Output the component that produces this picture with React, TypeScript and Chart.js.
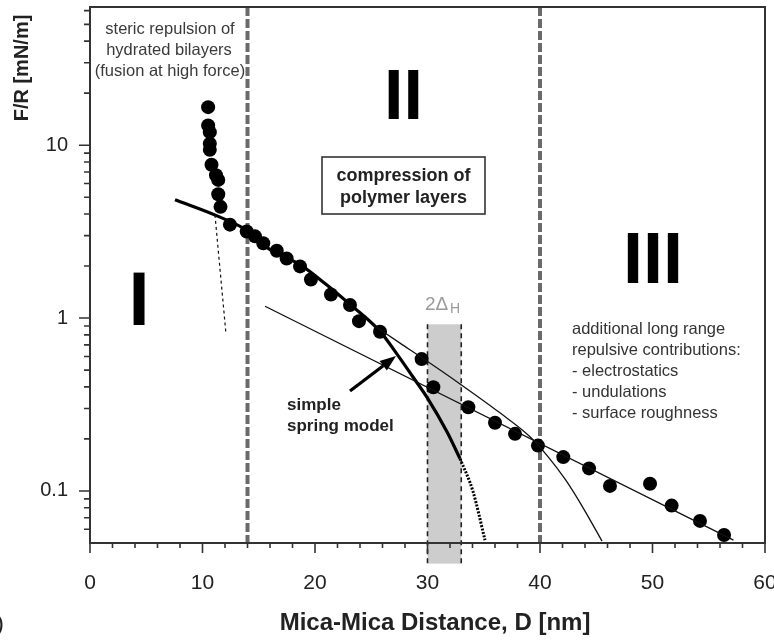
import React, { useEffect, useRef } from "react";
import { Chart, registerables } from "chart.js";

Chart.register(...registerables);

// ---- data (D in nm, F/R in mN/m) ----
const clusterD = [10.5, 10.5, 10.65, 10.65, 10.65, 10.8, 11.2, 11.4, 11.4, 11.6];
const clusterF = [16.6, 13.0, 11.9, 10.2, 9.4, 7.7, 6.7, 6.3, 5.2, 4.4];

const mainD = [12.44, 13.93, 14.67, 15.4, 16.6, 17.48, 18.67, 19.64, 21.42, 23.11, 23.91, 25.78, 29.48, 30.52, 33.63, 36.0, 37.78, 39.82, 42.07, 44.36, 46.22, 49.78, 51.7, 54.22, 56.36];
const mainF = [3.47, 3.17, 2.97, 2.71, 2.45, 2.21, 1.99, 1.67, 1.37, 1.19, 0.96, 0.834, 0.579, 0.398, 0.305, 0.248, 0.214, 0.183, 0.157, 0.135, 0.107, 0.11, 0.0823, 0.0671, 0.0556];

const springD = [7.56, 11.29, 13.87, 16.0, 18.67, 20.89, 23.11, 25.78, 27.29, 28.71, 30.04, 31.73, 32.89];
const springF = [4.83, 3.9, 3.24, 2.49, 2.04, 1.585, 1.2, 0.837, 0.619, 0.456, 0.341, 0.22, 0.154];
const springTailD = [32.89, 34.04, 35.11];
const springTailF = [0.154, 0.0995, 0.052];

const fitAD = [25.07, 27.56, 29.42, 32.89, 36.44, 39.11, 40.71, 42.31, 43.91, 45.51];
const fitAF = [0.921, 0.716, 0.595, 0.416, 0.283, 0.206, 0.158, 0.115, 0.0783, 0.0513];

const fitBD = [15.56, 57.2];
const fitBF = [1.17, 0.052];

const stericD = [11.11, 12.09];
const stericF = [3.95, 0.807];

const regionBounds = [14, 40];
const bandD = [30, 33];
const bandF = [0.92, 0.038];

const arrowD = [23.11, 27.2];
const arrowF = [0.379, 0.603];

const xTickLabels = [0, 10, 20, 30, 40, 50, 60];
const xMinorTicks = [2, 4, 6, 8, 12, 14, 16, 18, 22, 24, 26, 28, 32, 34, 36, 38, 42, 44, 46, 48, 52, 54, 56, 58];
const yTickLabels = [0.1, 1, 10];
const yMinorTicks = [0.06, 0.07, 0.08, 0.09, 0.2, 0.3, 0.4, 0.5, 0.6, 0.7, 0.8, 0.9, 2, 3, 4, 5, 6, 7, 8, 9, 20, 30, 40, 50, 60];

const X_MIN = 0, X_MAX = 60, Y_MIN = 0.05, Y_MAX = 63;

const FONT = "'Liberation Sans', Arial, Helvetica, sans-serif";

const pts = (xs: number[], ys: number[]) => xs.map((v, i) => ({ x: v, y: ys[i] }));

const overlay = {
  id: "overlay",
  beforeDatasetsDraw(chart: any) {
    const { ctx, chartArea: a, scales } = chart;
    const x = scales.x, y = scales.y;
    ctx.save();
    // shaded band 2ΔH
    const bx0 = x.getPixelForValue(bandD[0]);
    const bx1 = x.getPixelForValue(bandD[1]);
    const by0 = y.getPixelForValue(bandF[0]);
    const by1 = y.getPixelForValue(bandF[1]);
    ctx.fillStyle = "#cdcdcd";
    ctx.fillRect(bx0, by0, bx1 - bx0, by1 - by0);
    ctx.strokeStyle = "#222";
    ctx.lineWidth = 1.6;
    ctx.setLineDash([5, 4]);
    for (const bx of [bx0, bx1]) {
      ctx.beginPath();
      ctx.moveTo(bx, by0);
      ctx.lineTo(bx, by1);
      ctx.stroke();
    }
    // region boundaries
    ctx.strokeStyle = "#6a6a6a";
    ctx.lineWidth = 4;
    ctx.setLineDash([9, 3]);
    for (const d of regionBounds) {
      const px = x.getPixelForValue(d);
      ctx.beginPath();
      ctx.moveTo(px, a.top);
      ctx.lineTo(px, a.bottom);
      ctx.stroke();
    }
    ctx.restore();
  },
  afterDatasetsDraw(chart: any) {
    const { ctx, chartArea: a, scales } = chart;
    const x = scales.x, y = scales.y;
    ctx.save();
    ctx.setLineDash([]);
    // frame
    ctx.strokeStyle = "#333";
    ctx.lineWidth = 2;
    ctx.strokeRect(a.left, a.top, a.right - a.left, a.bottom - a.top);
    // ticks
    ctx.lineWidth = 1.6;
    ctx.beginPath();
    for (const v of xTickLabels) {
      const px = x.getPixelForValue(v);
      ctx.moveTo(px, a.bottom);
      ctx.lineTo(px, a.bottom + 10);
    }
    for (const v of xMinorTicks) {
      const px = x.getPixelForValue(v);
      ctx.moveTo(px, a.bottom);
      ctx.lineTo(px, a.bottom + 5);
    }
    for (const v of yTickLabels) {
      const py = y.getPixelForValue(v);
      ctx.moveTo(a.left, py);
      ctx.lineTo(a.left - 11, py);
    }
    for (const v of yMinorTicks) {
      const py = y.getPixelForValue(v);
      ctx.moveTo(a.left, py);
      ctx.lineTo(a.left - 6, py);
    }
    ctx.stroke();

    // arrow
    const ax0 = x.getPixelForValue(arrowD[0]), ay0 = y.getPixelForValue(arrowF[0]);
    const ax1 = x.getPixelForValue(arrowD[1]), ay1 = y.getPixelForValue(arrowF[1]);
    const ang = Math.atan2(ay1 - ay0, ax1 - ax0);
    const hl = 16, hw = 6;
    const bxh = ax1 - hl * Math.cos(ang), byh = ay1 - hl * Math.sin(ang);
    ctx.strokeStyle = "#000";
    ctx.fillStyle = "#000";
    ctx.lineWidth = 3.2;
    ctx.beginPath();
    ctx.moveTo(ax0, ay0);
    ctx.lineTo(bxh, byh);
    ctx.stroke();
    ctx.beginPath();
    ctx.moveTo(ax1, ay1);
    ctx.lineTo(bxh + hw * Math.sin(ang), byh - hw * Math.cos(ang));
    ctx.lineTo(bxh - hw * Math.sin(ang), byh + hw * Math.cos(ang));
    ctx.closePath();
    ctx.fill();

    // texts
    const txt = (s: string, px: number, py: number, font: string, color: string, align: CanvasTextAlign = "left", base: CanvasTextBaseline = "middle") => {
      ctx.font = font;
      ctx.fillStyle = color;
      ctx.textAlign = align;
      ctx.textBaseline = base;
      ctx.fillText(s, px, py);
    };
    const reg = (sz: number) => `${sz}px ${FONT}`;
    const bold = (sz: number) => `bold ${sz}px ${FONT}`;

    txt("steric repulsion of", 170, 29, reg(16.5), "#3a3a3a", "center");
    txt("hydrated bilayers", 169, 50, reg(16.5), "#3a3a3a", "center");
    txt("(fusion at high force)", 170, 71, reg(16.5), "#3a3a3a", "center");

    txt("I", 139, 325, bold(76), "#000", "center", "alphabetic");
    txt("II", 403.5, 119, bold(70), "#000", "center", "alphabetic");
    txt("III", 653, 283, bold(72), "#000", "center", "alphabetic");

    ctx.strokeStyle = "#333";
    ctx.lineWidth = 1.6;
    ctx.strokeRect(322, 157, 163, 57);
    txt("compression of", 403.5, 176, bold(18), "#222", "center");
    txt("polymer layers", 403.5, 198, bold(18), "#222", "center");

    txt("simple", 287, 405, bold(17), "#222");
    txt("spring model", 287, 426, bold(17), "#222");

    txt("2Δ", 425, 305, reg(19), "#9a9a9a");
    txt("H", 450, 309, reg(14), "#9a9a9a");

    const addl = ["additional long range", "repulsive contributions:", "- electrostatics", "- undulations", "- surface roughness"];
    addl.forEach((s, i) => txt(s, 572, 329 + i * 21.2, reg(16.5), "#333"));

    // axis titles
    txt("Mica-Mica Distance, D [nm]", 435, 623, bold(24), "#222", "center");
    ctx.save();
    ctx.translate(22, 68);
    ctx.rotate(-Math.PI / 2);
    txt("F/R [mN/m]", 0, 0, bold(20), "#222", "center");
    ctx.restore();
    txt(")", -4, 624, reg(24), "#222");
    ctx.restore();
  },
};

export default function App() {
  const ref = useRef<HTMLCanvasElement | null>(null);
  useEffect(() => {
    if (!ref.current) return;
    const chart = new Chart(ref.current, {
      type: "scatter",
      data: {
        datasets: [
          { data: pts(stericD, stericF), showLine: true, borderColor: "#111", borderWidth: 1.2, borderDash: [3, 3], pointRadius: 0 },
          { data: pts(fitBD, fitBF), showLine: true, borderColor: "#111", borderWidth: 1.3, pointRadius: 0 },
          { data: pts(fitAD, fitAF), showLine: true, borderColor: "#111", borderWidth: 1.3, pointRadius: 0, cubicInterpolationMode: "monotone" },
          { data: pts(springD, springF), showLine: true, borderColor: "#000", borderWidth: 3.2, pointRadius: 0, cubicInterpolationMode: "monotone" },
          { data: pts(springTailD, springTailF), showLine: true, borderColor: "#000", borderWidth: 3, borderDash: [2, 1.5], pointRadius: 0, cubicInterpolationMode: "monotone" },
          { data: pts(clusterD, clusterF), showLine: false, pointRadius: 7, pointBackgroundColor: "#000", pointBorderColor: "#000", pointBorderWidth: 0 },
          { data: pts(mainD, mainF), showLine: false, pointRadius: 7, pointBackgroundColor: "#000", pointBorderColor: "#000", pointBorderWidth: 0 },
        ],
      },
      options: {
        animation: false,
        responsive: false,
        devicePixelRatio: 1,
        layout: { padding: { left: 0, right: 9, top: 7, bottom: 0 } },
        plugins: { legend: { display: false }, tooltip: { enabled: false } },
        events: [],
        scales: {
          x: {
            type: "linear",
            min: X_MIN,
            max: X_MAX,
            grid: { display: false, drawTicks: false },
            border: { display: false },
            ticks: { font: { size: 21, family: FONT }, color: "#222", padding: 28, maxRotation: 0, autoSkip: false },
            afterBuildTicks: (s: any) => { s.ticks = xTickLabels.map((v) => ({ value: v })); },
            afterFit: (s: any) => { s.height = 98; s.paddingLeft = 0; s.paddingRight = 0; },
          },
          y: {
            type: "logarithmic",
            min: Y_MIN,
            max: Y_MAX,
            grid: { display: false, drawTicks: false },
            border: { display: false },
            ticks: { font: { size: 20, family: FONT }, color: "#222", padding: 22, autoSkip: false, callback: (v: any) => String(v) },
            afterBuildTicks: (s: any) => { s.ticks = yTickLabels.map((v) => ({ value: v })); },
            afterFit: (s: any) => { s.width = 90; s.paddingTop = 0; s.paddingBottom = 0; },
          },
        },
      },
      plugins: [overlay],
    } as any);
    return () => chart.destroy();
  }, []);
  return (
    <div style={{ position: "absolute", left: 0, top: 0, width: 774, height: 641, background: "#fff" }}>
      <canvas ref={ref} width={774} height={641} style={{ width: 774, height: 641, display: "block" }} />
    </div>
  );
}
